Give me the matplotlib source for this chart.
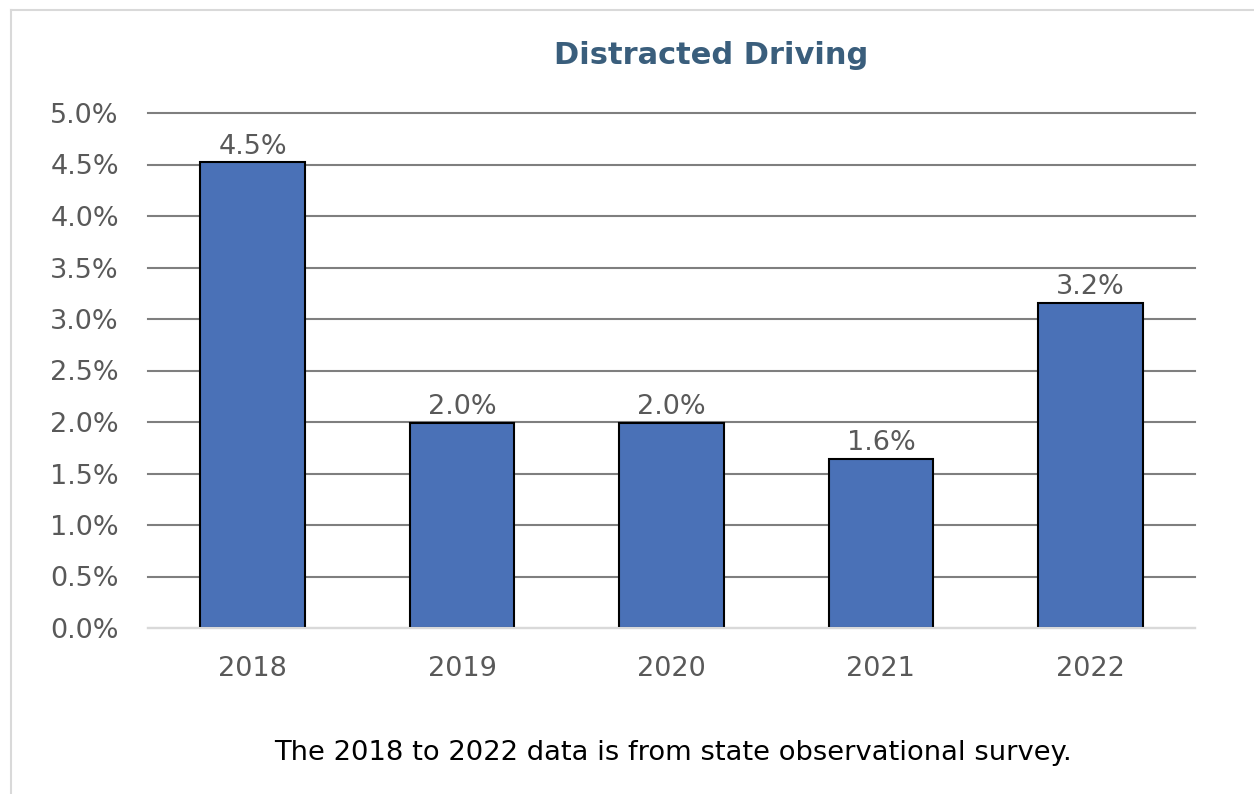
import matplotlib.pyplot as plt
from matplotlib.lines import Line2D

# ----------------------------- DATA -----------------------------
years = ["2018", "2019", "2020", "2021", "2022"]
rates = [4.52, 1.99, 1.99, 1.64, 3.16]   # percent of drivers observed distracted
y_ticks = [0.0, 0.5, 1.0, 1.5, 2.0, 2.5, 3.0, 3.5, 4.0, 4.5, 5.0]

TITLE = "Distracted Driving"
NOTE = "The 2018 to 2022 data is from state observational survey."

BAR_COLOR = "#4A71B7"
TEXT_GRAY = "#595959"
GRID_GRAY = "#7F7F7F"

plt.rcParams["font.family"] = ["DejaVu Sans"]

# ----------------------------- FIGURE -----------------------------
W, H = 1254, 794
fig = plt.figure(figsize=(W / 100, H / 100), dpi=100)
ax = fig.add_axes([148 / W, 1 - 628 / H, (1195 - 148) / W, (628 - 113) / H])

x = list(range(len(years)))
bars = ax.bar(x, rates, width=0.5, color=BAR_COLOR, edgecolor="black",
              linewidth=1.5, zorder=3)

for b, v in zip(bars, rates):
    ax.annotate(f"{v:.1f}%", (b.get_x() + b.get_width() / 2, v),
                xytext=(0, 2), textcoords="offset points",
                ha="center", va="bottom", fontsize=19.5, color=TEXT_GRAY)

ax.set_xlim(-0.5, len(years) - 0.5)
ax.set_ylim(0, 5.0)
ax.set_yticks(y_ticks)
ax.set_yticklabels([f"{t:.1f}%" for t in y_ticks])
ax.set_xticks(x)
ax.set_xticklabels(years)
ax.tick_params(axis="both", length=0, labelsize=19.5, colors=TEXT_GRAY)
ax.tick_params(axis="y", pad=21)
ax.tick_params(axis="x", pad=20)

ax.grid(axis="y", color=GRID_GRAY, linewidth=1.5, zorder=0)
for gl in ax.get_ygridlines():
    gl.set_clip_on(False)
for s in ["top", "right", "left"]:
    ax.spines[s].set_visible(False)
ax.spines["bottom"].set_color("#D9D9D9")
ax.spines["bottom"].set_linewidth(1.5)
ax.spines["bottom"].set_zorder(4)

fig.text(711 / W, 1 - 55 / H, TITLE, ha="center", va="center",
         fontsize=22, fontweight="bold", color="#3A5E7C")
fig.text(673 / W, 1 - 753 / H, NOTE, ha="center", va="center",
         fontsize=19.7, color="black")

# light frame along top and left edges
fig.add_artist(Line2D([11 / W, 1], [1 - 10 / H, 1 - 10 / H],
                      transform=fig.transFigure, color="#D9D9D9", linewidth=1.5))
fig.add_artist(Line2D([11 / W, 11 / W], [0, 1 - 10 / H],
                      transform=fig.transFigure, color="#D9D9D9", linewidth=1.5))

fig.savefig("out.png", dpi=100)
